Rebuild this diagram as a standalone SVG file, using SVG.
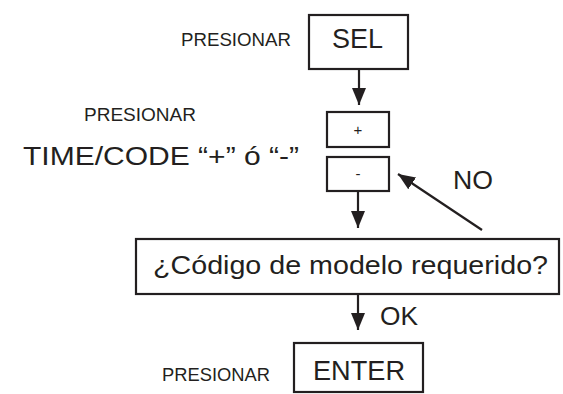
<svg xmlns="http://www.w3.org/2000/svg" width="563" height="394" viewBox="0 0 563 394">
<style>
.box{fill:#fff;stroke:#231f20;stroke-width:2.2}
.t{font-family:"Liberation Sans",Arial,sans-serif;fill:#231f20}
.big{font-size:27px}
.sm{font-size:18px}
.conn{stroke:#231f20;stroke-width:2.2;fill:none;marker-end:url(#ah)}
</style>
<defs>
<marker id="ah" markerUnits="userSpaceOnUse" markerWidth="18" markerHeight="14" refX="17" refY="7" orient="auto">
<path d="M0,0 L17,7 L0,14 Z" fill="#231f20"/>
</marker>
</defs>
<g id="connectors">
<line class="conn" x1="359" y1="69" x2="359" y2="105"/>
<line class="conn" x1="358" y1="191" x2="358" y2="228"/>
<line class="conn" x1="358" y1="294" x2="358" y2="330"/>
<line class="conn" x1="482" y1="230" x2="398" y2="174"/>
</g>
<g id="label-presionar-1"><text class="t sm" x="181" y="46" textLength="110" lengthAdjust="spacingAndGlyphs">PRESIONAR</text></g>
<g id="node-sel">
<rect class="box" x="309" y="15" width="99" height="54"/>
<text class="t big" x="332" y="48" textLength="51" lengthAdjust="spacingAndGlyphs">SEL</text>
</g>
<g id="label-presionar-2"><text class="t sm" x="84" y="121" textLength="112" lengthAdjust="spacingAndGlyphs">PRESIONAR</text></g>
<g id="label-timecode"><text class="t" font-size="25" x="23" y="165" textLength="276" lengthAdjust="spacingAndGlyphs">TIME/CODE “+” ó “-”</text></g>
<g id="node-plus">
<rect class="box" x="327" y="112" width="62" height="35"/>
<text class="t" font-size="15" x="358" y="135" text-anchor="middle">+</text>
</g>
<g id="node-minus">
<rect class="box" x="327" y="157" width="62" height="34"/>
<text class="t" font-size="15" x="358" y="179" text-anchor="middle">-</text>
</g>
<g id="label-no"><text class="t" font-size="25" x="453" y="189" textLength="40" lengthAdjust="spacingAndGlyphs">NO</text></g>
<g id="node-question">
<rect class="box" x="136" y="239" width="423" height="55"/>
<text class="t" font-size="26" x="153" y="274" textLength="395" lengthAdjust="spacingAndGlyphs">¿Código de modelo requerido?</text>
</g>
<g id="label-ok"><text class="t" font-size="25" x="380" y="325" textLength="38" lengthAdjust="spacingAndGlyphs">OK</text></g>
<g id="label-presionar-3"><text class="t sm" x="162" y="381" textLength="108" lengthAdjust="spacingAndGlyphs">PRESIONAR</text></g>
<g id="node-enter">
<rect class="box" x="294" y="343" width="129" height="49"/>
<text class="t big" x="313" y="380" textLength="92" lengthAdjust="spacingAndGlyphs">ENTER</text>
</g>
</svg>
